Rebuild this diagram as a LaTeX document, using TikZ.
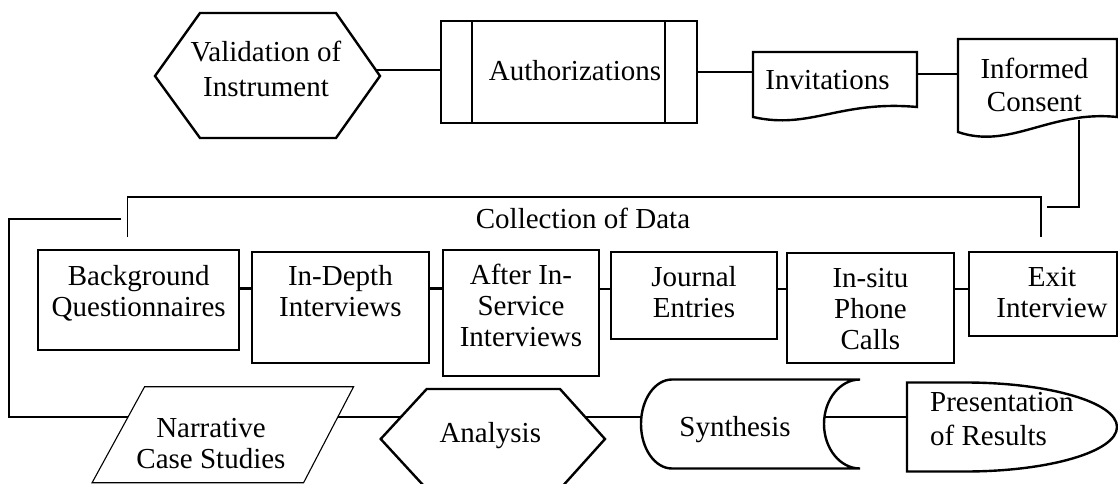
\documentclass[tikz,border=0pt]{standalone}
\usepackage{fontspec}
\setmainfont{Liberation Serif}
\tikzset{
  heavy/.style={line width=2.4pt, line join=miter},
  medium/.style={line width=1.7pt, line join=miter},
  light/.style={line width=1.1pt, line join=miter},
  lbl/.style={font=\fontsize{29}{#1}\selectfont, align=center, inner sep=0pt, anchor=base},
  lbl/.default=31,
}
\begin{document}
\begin{tikzpicture}[x=1pt,y=-1pt]
\useasboundingbox (0,0) rectangle (1118,484);

% ---------- top row ----------
\draw[heavy] (155,76) -- (200,13) -- (336,13) -- (380,76) -- (336,138) -- (200,138) -- cycle;
\node[lbl=35] (valid) at (266,97) {Validation of\\Instrument};
\coordinate (validR) at (376,70);

\draw[heavy] (441,21) rectangle (697,123);
\draw[heavy] (472,21) -- (472,123);
\draw[heavy] (665,21) -- (665,123);
\node[lbl] (auth) at (575,81) {Authorizations};
\coordinate (authL) at (441,70);
\coordinate (authR) at (697,72);

\draw[heavy] (753,117) -- (753,52) -- (917,52) -- (917,107)
  .. controls (840,100) and (810,130) .. (753,117) -- cycle;
\node[lbl] (invit) at (827.5,90) {Invitations};
\coordinate (invitL) at (753,72);
\coordinate (invitR) at (917,74);

\draw[heavy] (958,132) -- (958,39) -- (1117,39) -- (1117,117)
  .. controls (1050,110) and (1010,150) .. (958,132) -- cycle;
\node[lbl=33.4] (consent) at (1034.5,111.7) {Informed\\Consent};
\coordinate (consentL) at (958,74);
\coordinate (consentB) at (1079,120);
\coordinate (elbowA) at (1079,207);
\coordinate (collR) at (1047,207);

% ---------- collection of data ----------
\draw[light] (127.5,237) -- (127.5,197) -- (1041,197) -- (1041,237);
\node[lbl] (coll) at (583,228.3) {Collection of Data};
\coordinate (collL) at (121,219);
\coordinate (elbowB) at (9,219);
\coordinate (elbowC) at (9,417);

\draw[heavy] (38,250) rectangle (239,350);
\node[lbl] (bq) at (138.7,316) {Background\\Questionnaires};
\draw[heavy] (252,252) rectangle (429,363);
\node[lbl] (idi) at (340.4,316.7) {In-Depth\\Interviews};
\draw[medium] (443,250) rectangle (599,376);
\node[lbl] (asi) at (521,346.7) {After In-\\Service\\Interviews};
\draw[heavy] (611,252) rectangle (777,339);
\node[lbl] (je) at (694,317.3) {Journal\\Entries};
\draw[heavy] (787,253) rectangle (954,363);
\node[lbl] (ipc) at (870.4,349) {In-situ\\Phone\\Calls};
\draw[medium] (969,252) rectangle (1117,336);
\node[lbl] (ei) at (1052,317.3) {Exit\\Interview};

\coordinate (bqR) at (239,288.5);  \coordinate (idiL) at (252,288.5);
\coordinate (idiR) at (429,288.5); \coordinate (asiL) at (443,288.5);
\coordinate (asiR) at (599,289);   \coordinate (jeL) at (611,289);
\coordinate (jeR) at (777,289);    \coordinate (ipcL) at (787,289);
\coordinate (ipcR) at (954,289);   \coordinate (eiL) at (969,289);

% ---------- bottom row ----------
\draw[light] (144.6,386.7) -- (353.6,386.7) -- (303.6,482.7) -- (92.1,482.7) -- cycle;
\node[lbl] (ncs) at (211,468) {Narrative\\Case Studies};
\coordinate (ncsL) at (128,417);
\coordinate (ncsR) at (337.8,417);

\draw[heavy] (380.7,439) -- (426.7,389) -- (560,389) -- (605,439) -- (560,489) -- (426.7,489) -- cycle;
\node[lbl] (ana) at (490.3,442.7) {Analysis};
\coordinate (anaL) at (400.9,417);
\coordinate (anaR) at (585.2,417);

\draw[heavy] (672,379.5) -- (860,379.5)
  .. controls (840.1,379.5) and (824,399.4) .. (824,424)
  .. controls (824,448.6) and (840.1,468.5) .. (860,468.5)
  -- (672,468.5)
  .. controls (654.9,468.5) and (641,448.6) .. (641,424)
  .. controls (641,399.4) and (654.9,379.5) .. (672,379.5) -- cycle;
\node[lbl] (syn) at (735,436.7) {Synthesis};
\coordinate (synL) at (641.4,417);
\coordinate (synR) at (824.4,417);

\draw[heavy] (907,382.5) -- (965,382.5)
  .. controls (1049,382.5) and (1117,402.4) .. (1117,427)
  .. controls (1117,451.6) and (1049,471.5) .. (965,471.5)
  -- (907,471.5) -- cycle;
\node[lbl=33.3, align=left, anchor=base west] (pres) at (930,445) {Presentation\\of Results};
\coordinate (presL) at (907,417);

% ---------- connectors ----------
\draw[heavy] (validR) -- (authL);
\draw[heavy] (authR) -- (invitL);
\draw[heavy] (invitR) -- (consentL);
\draw[heavy] (consentB) -- (elbowA) -- (collR);
\draw[heavy] (collL) -- (elbowB) -- (elbowC) -- (ncsL);
\draw[heavy] (bqR) -- (idiL);
\draw[heavy] (idiR) -- (asiL);
\draw[heavy] (asiR) -- (jeL);
\draw[heavy] (jeR) -- (ipcL);
\draw[heavy] (ipcR) -- (eiL);
\draw[heavy] (ncsR) -- (anaL);
\draw[heavy] (anaR) -- (synL);
\draw[heavy] (synR) -- (presL);
\end{tikzpicture}
\end{document}
